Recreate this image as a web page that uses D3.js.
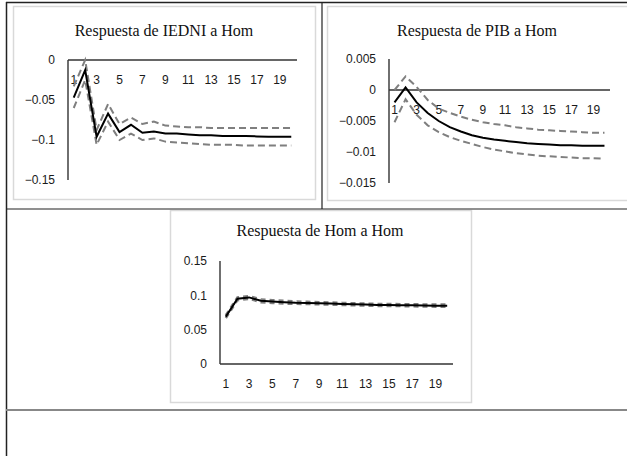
<!DOCTYPE html>
<html>
<head>
<meta charset="utf-8">
<script src="https://cdn.jsdelivr.net/npm/d3@7.9.0/dist/d3.min.js"></script>
<style>
  body { margin: 0; background: #fff; }
  svg { display: block; }
</style>
</head>
<body>
<script>
// periods (horizon) and tick labels
const periods = [1, 2, 3, 4, 5, 6, 7, 8, 9, 10, 11, 12, 13, 14, 15, 16, 17, 18, 19, 20];
const xTickLabels = ["1", "3", "5", "7", "9", "11", "13", "15", "17", "19"];

// Respuesta de IEDNI a Hom
const iedniResp  = [-0.047, -0.0125, -0.096, -0.067, -0.090, -0.081, -0.091, -0.0895, -0.092, -0.092, -0.093, -0.094, -0.094, -0.095, -0.095, -0.095, -0.0955, -0.096, -0.096, -0.096];
const iedniUpper = [-0.033, 0.000, -0.0875, -0.055, -0.080, -0.072, -0.080, -0.077, -0.082, -0.083, -0.084, -0.084, -0.085, -0.085, -0.085, -0.085, -0.085, -0.085, -0.085, -0.085];
const iedniLower = [-0.060, -0.025, -0.106, -0.077, -0.100, -0.092, -0.100, -0.098, -0.102, -0.103, -0.104, -0.105, -0.106, -0.106, -0.106, -0.107, -0.107, -0.107, -0.107, -0.107];
const iedniTicks = [0, -0.05, -0.1, -0.15];

// Respuesta de PIB a Hom
const pibResp  = [-0.0020, 0.0004, -0.0020, -0.0037, -0.0050, -0.0060, -0.0067, -0.0073, -0.0077, -0.0080, -0.0082, -0.0084, -0.0086, -0.0087, -0.0088, -0.0089, -0.0089, -0.0090, -0.0090, -0.0090];
const pibUpper = [0.0000, 0.0022, 0.0005, -0.0016, -0.0030, -0.0037, -0.0043, -0.0048, -0.0052, -0.0055, -0.0057, -0.0060, -0.0062, -0.0064, -0.0065, -0.0066, -0.0067, -0.0068, -0.0069, -0.0069];
const pibLower = [-0.0052, -0.0015, -0.0040, -0.0057, -0.0068, -0.0076, -0.0082, -0.0087, -0.0092, -0.0096, -0.0099, -0.0102, -0.0104, -0.0106, -0.0107, -0.0108, -0.0109, -0.0110, -0.0110, -0.0111];
const pibTicks = [0.005, 0, -0.005, -0.01, -0.015];

// Respuesta de Hom a Hom
const homResp  = [0.069, 0.095, 0.097, 0.092, 0.091, 0.090, 0.0893, 0.089, 0.0885, 0.088, 0.0875, 0.087, 0.0865, 0.086, 0.086, 0.0857, 0.0855, 0.0853, 0.085, 0.085];
const homUpper = [0.071, 0.097, 0.099, 0.094, 0.093, 0.092, 0.091, 0.0905, 0.090, 0.0895, 0.089, 0.0885, 0.088, 0.0875, 0.0875, 0.087, 0.087, 0.0868, 0.0865, 0.0865];
const homLower = [0.067, 0.093, 0.095, 0.090, 0.089, 0.088, 0.0876, 0.0875, 0.087, 0.0865, 0.086, 0.0855, 0.085, 0.0845, 0.0845, 0.0844, 0.084, 0.0838, 0.0835, 0.0835];
const homTicks = [0.15, 0.1, 0.05, 0];

const W = 627, H = 456;
const svg = d3.select("body").append("svg").attr("width", W).attr("height", H);

// table frame
const frame = svg.append("g");
// chart boxes first (light grey)
[[13, 6, 302, 193], [327, 6, 310, 194], [170, 210, 301, 192]].forEach(b => {
  frame.append("rect").attr("x", b[0] + 0.5).attr("y", b[1] + 0.5).attr("width", b[2]).attr("height", b[3])
    .attr("fill", "#fff").attr("stroke", "#d9d9d9").attr("stroke-width", 1.5);
});
frame.append("line").attr("x1", 6).attr("x2", W).attr("y1", 2.5).attr("y2", 2.5).attr("stroke", "#222").attr("stroke-width", 1.5);
frame.append("line").attr("x1", 6.5).attr("x2", 6.5).attr("y1", 2).attr("y2", H).attr("stroke", "#222").attr("stroke-width", 1.5);
frame.append("line").attr("x1", 322).attr("x2", 322).attr("y1", 2).attr("y2", 209).attr("stroke", "#222").attr("stroke-width", 1.2);
frame.append("line").attr("x1", 6).attr("x2", W).attr("y1", 209).attr("y2", 209).attr("stroke", "#222").attr("stroke-width", 1.2);
frame.append("line").attr("x1", 6).attr("x2", W).attr("y1", 410).attr("y2", 410).attr("stroke", "#888").attr("stroke-width", 2);

function drawChart(cfg) {
  const g = svg.append("g");
  const x = d3.scaleBand().domain(periods).range(cfg.xRange);
  const y = d3.scaleLinear().domain(cfg.yDomain).range(cfg.yRange);

  g.append("text")
    .attr("x", cfg.titleX).attr("y", cfg.titleY)
    .attr("text-anchor", "middle")
    .style("font-family", "'Liberation Serif', 'Times New Roman', serif")
    .style("font-size", "16px")
    .attr("fill", "#111")
    .text(cfg.title);

  // y tick labels
  g.selectAll(".ytick").data(cfg.yTicks).enter().append("text")
    .attr("x", cfg.xRange[0] - 13)
    .attr("y", d => y(d))
    .attr("dy", "0.35em")
    .attr("text-anchor", "end")
    .style("font-family", "'Liberation Sans', Arial, sans-serif")
    .style("font-size", "12px")
    .attr("fill", "#1a1a1a")
    .text(d => d3.format("")(d));

  // y axis line
  g.append("line")
    .attr("x1", cfg.xRange[0]).attr("x2", cfg.xRange[0])
    .attr("y1", y(cfg.yDomain[1])).attr("y2", y(cfg.yDomain[0]))
    .attr("stroke", "#333").attr("stroke-width", 1.4);

  // x axis at zero
  const y0 = y(0);
  g.append("line")
    .attr("x1", cfg.xRange[0]).attr("x2", cfg.xRange[1])
    .attr("y1", y0).attr("y2", y0)
    .attr("stroke", "#333").attr("stroke-width", 1.4);

  g.selectAll(".xtick").data(xTickLabels).enter().append("text")
    .attr("x", d => x(+d) + x.bandwidth() / 2)
    .attr("y", y0 + 20)
    .attr("dy", "0.35em")
    .attr("text-anchor", "middle")
    .style("font-family", "'Liberation Sans', Arial, sans-serif")
    .style("font-size", "12px")
    .attr("fill", "#1a1a1a")
    .text(d => d);

  const line = d3.line()
    .x((d, i) => x(periods[i]) + x.bandwidth() / 2)
    .y(d => y(d));

  [cfg.upper, cfg.lower].forEach(s => {
    g.append("path").datum(s)
      .attr("d", line)
      .attr("fill", "none")
      .attr("stroke", "#7f7f7f")
      .attr("stroke-width", cfg.dashWidth)
      .attr("stroke-dasharray", cfg.dash);
  });

  g.append("path").datum(cfg.resp)
    .attr("d", line)
    .attr("fill", "none")
    .attr("stroke", "#000")
    .attr("stroke-width", 2);
}

drawChart({
  title: "Respuesta de IEDNI a Hom", titleX: 164, titleY: 36,
  xRange: [68, 297], yDomain: [-0.15, 0], yRange: [180, 60],
  yTicks: iedniTicks, resp: iedniResp, upper: iedniUpper, lower: iedniLower,
  dashWidth: 2, dash: "7,4"
});

drawChart({
  title: "Respuesta de PIB a Hom", titleX: 477, titleY: 36,
  xRange: [389, 610], yDomain: [-0.015, 0.005], yRange: [183, 59],
  yTicks: pibTicks, resp: pibResp, upper: pibUpper, lower: pibLower,
  dashWidth: 2, dash: "7,4"
});

drawChart({
  title: "Respuesta de Hom a Hom", titleX: 320, titleY: 236,
  xRange: [220, 453], yDomain: [0, 0.15], yRange: [364, 261],
  yTicks: homTicks, resp: homResp, upper: homUpper, lower: homLower,
  dashWidth: 2.5, dash: "5,4"
});
</script>
</body>
</html>
